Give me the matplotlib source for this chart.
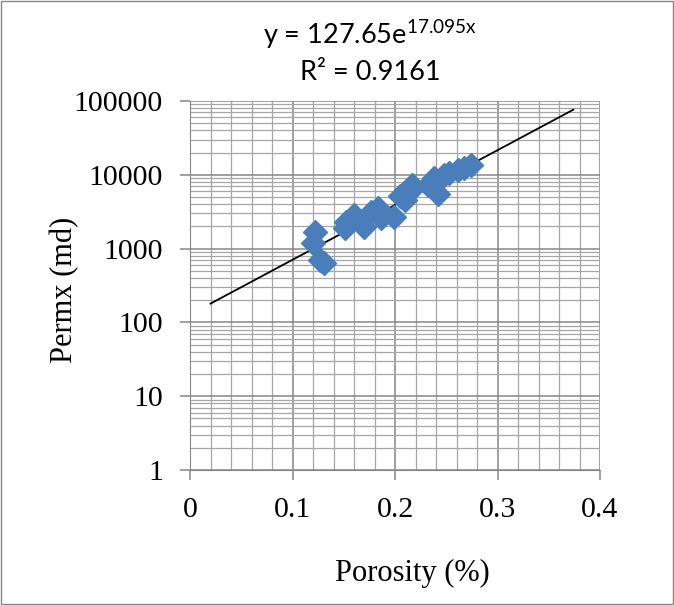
import matplotlib.pyplot as plt
import numpy as np
from matplotlib.patches import Rectangle
from matplotlib.ticker import FixedLocator, NullFormatter

porosity = [0.120, 0.122, 0.127, 0.131, 0.151, 0.152, 0.160, 0.170, 0.177, 0.183,
            0.186, 0.199, 0.205, 0.210, 0.216, 0.217, 0.232, 0.238, 0.242, 0.248,
            0.253, 0.261, 0.267, 0.274]
permx = [1180, 1690, 700, 630, 1880, 2320, 2850, 1980, 3160, 3510,
         2570, 2650, 5170, 4560, 6220, 7280, 7280, 8950, 5490, 9930,
         10480, 11600, 12250, 13580]

# trendline from Excel
a, b = 127.65, 17.095
x_fit = [0.02, 0.374]

fig = plt.figure(figsize=(6.74, 6.05), dpi=100)
ax = fig.add_axes([190/674, 1-470/605, 410/674, 369/605])

xx = np.linspace(x_fit[0], x_fit[1], 50)
ax.plot(xx, a*np.exp(b*xx), color='black', linewidth=1.3, zorder=3)
ax.plot(porosity, permx, linestyle='none', marker='D', markersize=12.5,
        color='#4A7EBB', zorder=4)

ax.set_yscale('log')
ax.set_xlim(0, 0.4)
ax.set_ylim(1, 100000)
ax.set_xticks([0, 0.1, 0.2, 0.3, 0.4])
ax.set_xticklabels(['0', '0.1', '0.2', '0.3', '0.4'])
ax.xaxis.set_minor_locator(FixedLocator(np.arange(0.02, 0.4, 0.02)))
ax.set_yticks([1, 10, 100, 1000, 10000, 100000])
ax.set_yticklabels(['1', '10', '100', '1000', '10000', '100000'])
minors = [m*10**e for e in range(0, 5) for m in range(2, 10)]
ax.yaxis.set_minor_locator(FixedLocator(minors))
ax.yaxis.set_minor_formatter(NullFormatter())

ax.grid(True, which='major', color='#868686', linewidth=1.1)
ax.grid(True, which='minor', color='#a6a6a6', linewidth=0.9)
ax.set_axisbelow(True)
ax.tick_params(which='minor', length=0)
ax.tick_params(which='major', length=7.5, color='#868686', width=1.1, labelsize=21.5, pad=12)
for lab in ax.get_xticklabels() + ax.get_yticklabels():
    lab.set_family('Liberation Serif')
ax.spines['top'].set_visible(False)
ax.spines['right'].set_visible(False)
ax.spines['left'].set_color('#868686')
ax.spines['bottom'].set_color('#868686')

fig.text(65/674, 1-290/605, 'Permx (md)', family='Liberation Serif', fontsize=22,
         ha='center', va='center', rotation=90)
fig.text(412/674, 1-573/605, 'Porosity (%)', family='Liberation Serif', fontsize=22,
         ha='center', va='center')

fig.text(370/674, 1-31/605, r'y = 127.65e$\mathregular{^{17.095x}}$', family='Lato',
         fontsize=19.5, ha='center', va='center_baseline')
fig.text(370/674, 1-70/605, 'R² = 0.9161', family='Lato', fontsize=19.5,
         ha='center', va='center_baseline')

fig.patches.append(Rectangle((0.002, 0.002), 0.996, 0.996, transform=fig.transFigure,
                             fill=False, edgecolor='#868686', linewidth=1))

fig.savefig('out.png', dpi=100)
